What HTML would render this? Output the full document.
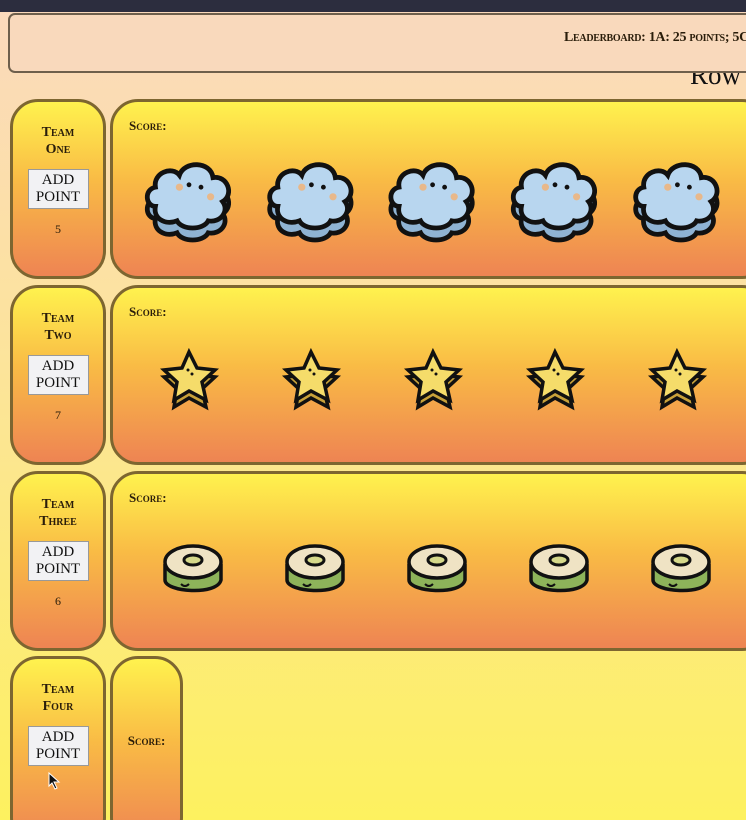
<!DOCTYPE html>
<html style="width:746px;height:820px;overflow:hidden;background:#fdf15f"><head><meta charset="utf-8"><style>
*{margin:0;padding:0;box-sizing:border-box}
body{width:746px;height:820px;overflow:hidden;position:relative;background:linear-gradient(180deg,#fbd9bd 0%,#fce49a 45%,#fdf15f 100%);font-family:"Liberation Serif",serif;font-variant:small-caps;font-weight:bold;color:#2a1d0a}
.bar{position:absolute;left:0;top:0;width:746px;height:12px;background:#2c2d3e}
.hdr{position:absolute;left:8px;top:13px;width:760px;height:60px;background:#f9d9bc;border:2px solid #6e5f4c;border-radius:7px}
.lb{position:absolute;left:564px;top:30px;font-size:14px;letter-spacing:-0.3px;white-space:nowrap}
.row{position:absolute;left:690px;top:60px;font-size:27px;font-weight:normal;font-variant:normal;color:#111}
.card{position:absolute;border:3px solid #7d6630;border-radius:28px;background:linear-gradient(180deg,#fff24e 0%,#f9bb45 45%,#ee8453 100%)}
.l{left:10px;width:96px;height:180px;text-align:center}
.t{margin-top:22px;font-size:14px;line-height:17px}
.btn{display:block;margin:11px auto 0;width:61px;height:40px;background:#f2f2f4;border:1px solid #999;font-variant:normal;font-weight:normal;font-size:15px;line-height:17px;padding-top:2px;color:#111}
.n{margin-top:13px;font-size:12px;font-weight:normal}
.r{left:110px;width:660px;height:180px}
.sc{position:absolute;left:16px;top:16px;font-size:13px}
.ic{position:absolute}
</style></head><body>
<div class="bar"></div>
<div class="row">Row</div>
<div class="hdr"></div>
<div class="lb">Leaderboard: 1A: 25 points; 5C: 1</div>
<svg width="0" height="0" style="position:absolute">
<defs>
<g id="cloud"><path d="M12 42c-8 0-10-14 0-16-2-12 14-18 20-10 4-12 26-12 28 2 12-2 18 14 8 20 6 8-2 18-12 16-4 8-22 8-26 0-10 4-20-2-18-12z" fill="#8fb3d3" stroke="#111" stroke-width="4" transform="translate(0,10)"/><path d="M12 42c-8 0-10-14 0-16-2-12 14-18 20-10 4-12 26-12 28 2 12-2 18 14 8 20 6 8-2 18-12 16-4 8-22 8-26 0-10 4-20-2-18-12z" fill="#b8d6ef" stroke="#111" stroke-width="4"/><circle cx="40" cy="24" r="2" fill="#111"/><circle cx="50" cy="26" r="2" fill="#111"/><circle cx="32" cy="26" r="3" fill="#e8b88a"/><circle cx="58" cy="34" r="3" fill="#e8b88a"/></g>
<g id="star"><path d="M30 8l8 16 18 2-13 12 4 18-17-9-15 9 3-18-13-12 18-2z" fill="#c9a23a" stroke="#111" stroke-width="3.5" transform="translate(0,7)"/><path d="M30 8l8 16 18 2-13 12 4 18-17-9-15 9 3-18-13-12 18-2z" fill="#f5dc6a" stroke="#111" stroke-width="3.5"/><circle cx="29" cy="26" r="1.5" fill="#111"/><circle cx="33" cy="30" r="1.5" fill="#111"/></g>
<g id="donut"><path d="M4 26v16c0 12 52 16 56 0V26" fill="#8db35a" stroke="#111" stroke-width="3.5"/><ellipse cx="32" cy="24" rx="28" ry="16" fill="#efe3c4" stroke="#111" stroke-width="3.5"/><ellipse cx="32" cy="22" rx="9" ry="5" fill="#d6d98a" stroke="#111" stroke-width="3"/><path d="M20 46q4 4 8 0" stroke="#111" stroke-width="2" fill="none"/></g>
</defs></svg>

<div class="card l" style="top:99px"><div class="t">Team<br>One</div><span class="btn">ADD<br>POINT</span><div class="n">5</div></div>
<div class="card r" style="top:99px"><div class="sc">Score:</div>
<svg class="ic" style="left:28px;top:54px" width="620" height="100"><g transform="scale(1.2)"><use href="#cloud" x="0"/><use href="#cloud" x="102"/><use href="#cloud" x="203"/><use href="#cloud" x="305"/><use href="#cloud" x="407"/></g></svg></div>

<div class="card l" style="top:285px"><div class="t">Team<br>Two</div><span class="btn">ADD<br>POINT</span><div class="n">7</div></div>
<div class="card r" style="top:285px"><div class="sc">Score:</div>
<svg class="ic" style="left:46px;top:56px" width="600" height="80"><use href="#star" x="0"/><use href="#star" x="122"/><use href="#star" x="244"/><use href="#star" x="366"/><use href="#star" x="488"/></svg></div>

<div class="card l" style="top:471px"><div class="t">Team<br>Three</div><span class="btn">ADD<br>POINT</span><div class="n">6</div></div>
<div class="card r" style="top:471px"><div class="sc">Score:</div>
<svg class="ic" style="left:48px;top:64px" width="600" height="80"><use href="#donut" x="0"/><use href="#donut" x="122"/><use href="#donut" x="244"/><use href="#donut" x="366"/><use href="#donut" x="488"/></svg></div>

<div class="card l" style="top:656px;height:190px"><div class="t">Team<br>Four</div><span class="btn">ADD<br>POINT</span></div>
<div class="card" style="left:110px;top:656px;width:73px;height:190px;border-radius:28px"><div style="position:absolute;top:74px;width:100%;text-align:center;font-size:13px">Score:</div></div>
<svg style="position:absolute;left:48px;top:772px" width="14" height="18"><path d="M1 1v13l3-3 3 6 2-1-3-6h5z" fill="#111" stroke="#fff" stroke-width="1"/></svg>
</body></html>
